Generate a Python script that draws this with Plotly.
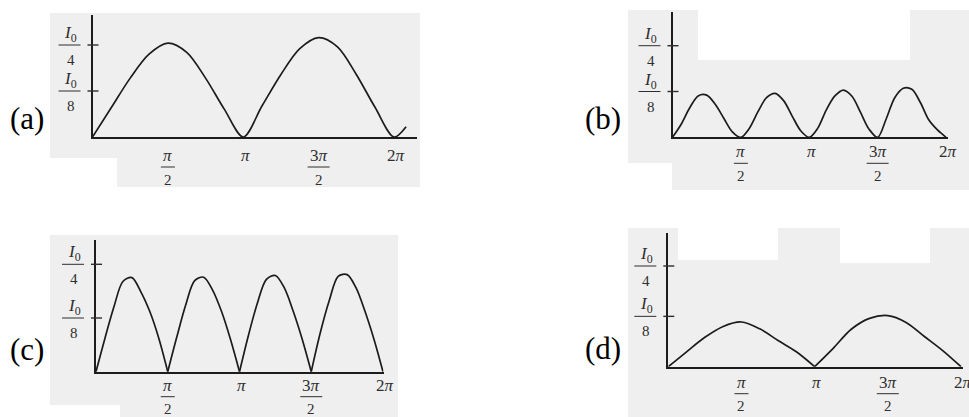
import plotly.graph_objects as go

# x values are in units of pi, intensities in units of I0
x_a = [0, 0.125, 0.25, 0.375, 0.5, 0.625, 0.75, 0.875, 1.0,
       1.125, 1.25, 1.375, 1.5, 1.625, 1.75, 1.875, 2.0, 2.08]
i_a = [0, 0.08, 0.16, 0.225, 0.255, 0.23, 0.16, 0.075, 0,
       0.085, 0.17, 0.24, 0.27, 0.245, 0.17, 0.08, 0, 0.028]

x_b = [0, 0.0625, 0.125, 0.1875, 0.25, 0.3125, 0.375, 0.4375, 0.5,
       0.5625, 0.625, 0.6875, 0.75, 0.8125, 0.875, 0.9375, 1.0,
       1.0625, 1.125, 1.1875, 1.25, 1.3125, 1.375, 1.4375, 1.5,
       1.5625, 1.625, 1.6875, 1.75, 1.8125, 1.875, 1.9375, 2.0]
i_b = [0, 0.035, 0.08, 0.113, 0.115, 0.09, 0.052, 0.015, 0,
       0.025, 0.07, 0.108, 0.12, 0.1, 0.058, 0.018, 0,
       0.025, 0.075, 0.113, 0.129, 0.112, 0.068, 0.022, 0,
       0.05, 0.108, 0.134, 0.131, 0.095, 0.047, 0.02, 0]

x_c = x_b
i_c = [0, 0.078, 0.151, 0.21, 0.219, 0.186, 0.14, 0.078, 0,
       0.08, 0.155, 0.212, 0.22, 0.19, 0.14, 0.075, 0,
       0.085, 0.16, 0.215, 0.224, 0.195, 0.14, 0.075, 0,
       0.09, 0.165, 0.222, 0.226, 0.195, 0.14, 0.075, 0]

x_d = [0, 0.125, 0.25, 0.375, 0.5, 0.625, 0.75, 0.875, 1.0,
       1.125, 1.25, 1.375, 1.5, 1.625, 1.75, 1.875, 2.0]
i_d = [0, 0.037, 0.073, 0.1, 0.111, 0.094, 0.065, 0.037, 0,
       0.045, 0.093, 0.12, 0.127, 0.11, 0.075, 0.04, 0]

ytick_vals = [0.25, 0.125]
ytick_den = ["4", "8"]
xtick_vals = [0.5, 1.0, 1.5, 2.0]
xtick_num = ["π", "π", "3π", "2π"]
xtick_den = ["2", "", "2", ""]
panel_names = ["(a)", "(b)", "(c)", "(d)"]

W, H = 969, 417
INK = "#1c1c1c"
TXT = "#2e2e2e"
SERIF = "Liberation Serif, DejaVu Serif, serif"

# pixel geometry of each panel: origin, end of x axis, top of y axis, where 2pi and I0/4 fall,
# offsets (px below the axis) of x-label numerator / bar / denominator, panel label centre
panels = [
    dict(x=x_a, y=i_a, cusp=False, ox=92.5, oy=137, xend=417, ytop=15, x2pi=394, y4=45,
         off=(18, 30, 43), lx=27, ly=118),
    dict(x=x_b, y=i_b, cusp=False, ox=672.5, oy=137.3, xend=948, ytop=12, x2pi=946, y4=45.7,
         off=(14, 26, 39), lx=603, ly=118),
    dict(x=x_c, y=i_c, cusp=True, ox=96, oy=371.7, xend=383.5, ytop=240, x2pi=383, y4=264.3,
         off=(14, 25, 37), lx=27, ly=349),
    dict(x=x_d, y=i_d, cusp=True, ox=668.3, oy=366.7, xend=963, ytop=233, x2pi=961, y4=266,
         off=(16, 27, 39), lx=603, ly=348),
]

# scanned paper background patches (left, top, right, bottom) in pixels
bg_rects = [
    (50, 13, 420, 158), (117, 158, 420, 187),
    (628, 10, 698, 163), (910, 10, 969, 190), (698, 60, 910, 190), (672, 163, 698, 190),
    (50, 235, 398, 405), (120, 405, 398, 417),
    (628, 228, 678, 417), (778, 228, 840, 417), (930, 228, 969, 417),
    (678, 260, 778, 417), (840, 263, 930, 417),
]


def split_humps(xs, ys):
    cuts = [0] + [i for i in range(1, len(ys) - 1) if ys[i] == 0] + [len(ys) - 1]
    return [(xs[a:b + 1], ys[a:b + 1]) for a, b in zip(cuts[:-1], cuts[1:])]


fig = go.Figure()
layout = dict(width=W, height=H, margin=dict(l=0, r=0, t=0, b=0),
              paper_bgcolor="white", plot_bgcolor="rgba(0,0,0,0)",
              showlegend=False, shapes=[], annotations=[])

for l, t, r, b in bg_rects:
    layout["shapes"].append(dict(type="rect", xref="paper", yref="paper", layer="below",
                                 x0=l / W, x1=r / W, y0=1 - b / H, y1=1 - t / H,
                                 fillcolor="#efefef", line=dict(width=0)))


def label(xr, yr, x, y, text, dx, dy, size, color=TXT):
    return dict(x=x, y=y, xref=xr, yref=yr, xshift=dx, yshift=dy, text=text, showarrow=False,
                xanchor="center", yanchor="middle", font=dict(family=SERIF, size=size, color=color))


def bar(xr, yr, x, y, x0, x1, dy, width=1):
    return dict(type="line", xref=xr, yref=yr, xsizemode="pixel", ysizemode="pixel",
                xanchor=x, yanchor=y, x0=x0, x1=x1, y0=dy, y1=dy,
                line=dict(color=TXT, width=width))


for n, p in enumerate(panels):
    sfx = "" if n == 0 else str(n + 1)
    xr, yr = "x" + sfx, "y" + sfx
    xmax = 2 * (p["xend"] - p["ox"]) / (p["x2pi"] - p["ox"])
    ymax = 0.25 * (p["oy"] - p["ytop"]) / (p["oy"] - p["y4"])

    pieces = split_humps(p["x"], p["y"]) if p["cusp"] else [(p["x"], p["y"])]
    for xs, ys in pieces:
        fig.add_trace(go.Scatter(x=xs, y=ys, mode="lines", xaxis=xr, yaxis=yr,
                                 line=dict(color=INK, width=1.7, shape="spline", smoothing=0.9),
                                 hoverinfo="skip"))

    axis_style = dict(showline=True, linecolor=INK, linewidth=1.6, showgrid=False,
                      zeroline=False, showticklabels=False, ticks="", fixedrange=True)
    layout["xaxis" + sfx] = dict(domain=[p["ox"] / W, p["xend"] / W], range=[0, xmax],
                                 anchor=yr, **axis_style)
    layout["yaxis" + sfx] = dict(domain=[1 - p["oy"] / H, 1 - p["ytop"] / H], range=[0, ymax],
                                 anchor=xr, **axis_style)

    # domain refs keep these marks from being clipped to the plot area
    xd, yd = xr + " domain", yr + " domain"

    # y ticks crossing the axis, with I0/n fraction labels
    for v, den in zip(ytick_vals, ytick_den):
        layout["shapes"].append(bar(xd, yd, 0, v / ymax, -5, 6, 0, width=1.4))
        layout["shapes"].append(bar(xd, yd, 0, v / ymax, -34, -12, 0))
        layout["annotations"].append(label(xd, yd, 0, v / ymax, "<i>I</i><sub>0</sub>", -22, 11, 17))
        layout["annotations"].append(label(xd, yd, 0, v / ymax, den, -22, -15, 15))

    # x labels under the axis
    num_off, bar_off, den_off = p["off"]
    for v, num, den in zip(xtick_vals, xtick_num, xtick_den):
        txt = num.replace("π", "<i>π</i>")
        if den:
            half = 7 if len(num) == 1 else 11
            layout["shapes"].append(bar(xd, yd, v / xmax, 0, -half, half, -bar_off))
            layout["annotations"].append(label(xd, yd, v / xmax, 0, txt, 0, -num_off, 17))
            layout["annotations"].append(label(xd, yd, v / xmax, 0, den, 0, -den_off, 15))
        else:
            layout["annotations"].append(label(xd, yd, v / xmax, 0, txt, 2, -num_off, 17))

    layout["annotations"].append(label("paper", "paper", p["lx"] / W, 1 - p["ly"] / H,
                                       panel_names[n], 0, 0, 31, color="black"))

fig.update_layout(**layout)
fig.write_html("out.html", config={"displayModeBar": False},
               post_script="document.body.style.margin = '0';")
